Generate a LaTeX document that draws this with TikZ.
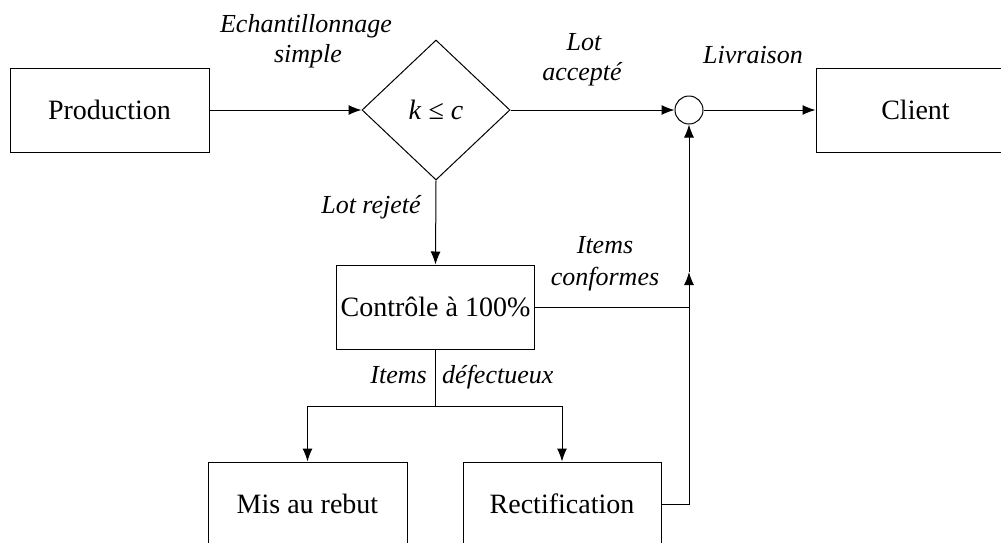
\documentclass[tikz,border=0pt]{standalone}
\usepackage{fontspec}
\setmainfont{Liberation Serif}
\usetikzlibrary{shapes.geometric,arrows.meta}
\begin{document}
\begin{tikzpicture}[x=1pt,y=-1pt,
  box/.style={draw,line width=1pt,rectangle,minimum width=199pt,minimum height=84pt,inner sep=0pt,
    font=\fontsize{28}{32}\selectfont},
  lbl/.style={anchor=base,inner sep=0pt,font=\fontsize{26}{30}\selectfont\itshape},
  arr/.style={line width=1pt,-{Latex[length=13pt,width=10pt]}},
  ln/.style={line width=1pt}]
\useasboundingbox (0,0) rectangle (1001,542);
\clip (0,0) rectangle (1001,542);
\node[box] (prod) at (109.5,110) {Production};
\node[box] (client) at (915.5,110) {Client};
\node[draw,line width=1pt,diamond,minimum width=148pt,minimum height=140pt,inner sep=0pt,
  font=\fontsize{28}{32}\selectfont] (dia) at (436,110) {\itshape k\/ \upshape≤ \itshape c};
\node[draw,line width=1pt,circle,minimum size=28pt,inner sep=0pt] (circ) at (689,110) {};
\node[box,minimum width=198pt] (ctrl) at (435.5,307) {Contrôle à 100\%};
\node[box] (mis) at (307.5,504) {Mis au rebut};
\node[box,minimum width=198pt] (rect) at (562,504) {Rectification};
\coordinate (junc) at (689,307);
\coordinate (corner) at (689,504);
\coordinate (mid) at (689,272);
\coordinate (split) at (435.5,406);
\draw[arr] (prod.east) -- (dia.west);
\draw[arr] (dia.east) -- (circ.west);
\draw[arr] (circ.east) -- (client.west);
\draw[arr] (dia.south) -- (ctrl.north);
\draw[ln] (ctrl.east) -- (junc);
\draw[arr] (rect.east) -- (corner) -- (mid);
\draw[arr] (mid) -- (circ.south);
\draw[ln] (ctrl.south) -- (split);
\draw[arr] (split) -| (mis.north);
\draw[arr] (split) -| (rect.north);
\node[lbl] (l1) at (306,32) {Echantillonnage};
\node[lbl] (l2) at (308,62) {simple};
\node[lbl] (l3) at (584,50) {Lot};
\node[lbl] (l4) at (582,80) {accepté};
\node[lbl] (l5) at (753,63) {Livraison};
\node[lbl] (l6) at (371,213) {Lot rejeté};
\node[lbl] (l7) at (605,253) {Items};
\node[lbl] (l8) at (605,285) {conformes};
\node[lbl,anchor=base east] (l9) at (427,383) {Items};
\node[lbl,anchor=base west] (l10) at (442,383) {défectueux};
\end{tikzpicture}
\end{document}
